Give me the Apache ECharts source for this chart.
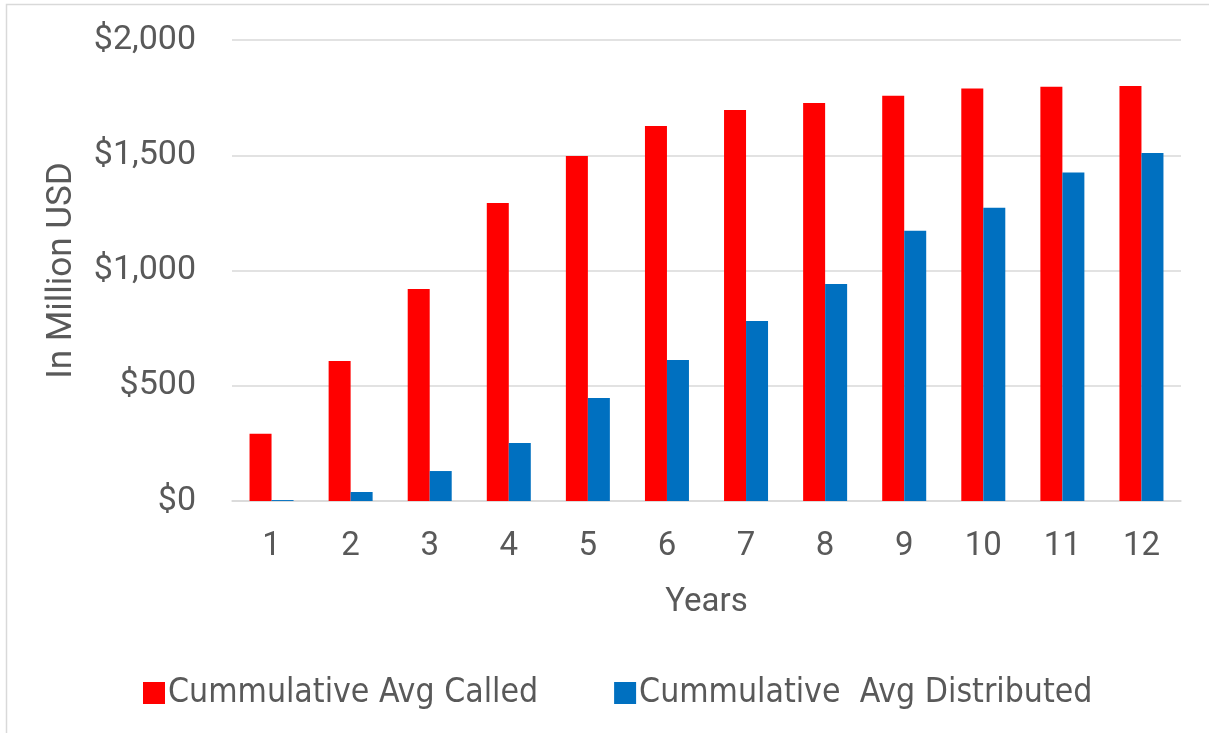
<!DOCTYPE html>
<html>
<head>
<meta charset="utf-8">
<script src="https://cdn.jsdelivr.net/npm/echarts@6/dist/echarts.min.js"></script>
<style>
html,body{margin:0;padding:0;background:#fff;}
#chart{width:1209px;height:733px;}
</style>
</head>
<body>
<div id="chart"></div>
<script>
const years = ['1','2','3','4','5','6','7','8','9','10','11','12'];
const called = [292, 607, 920, 1293, 1497, 1627, 1696, 1727, 1758, 1790, 1797, 1800];
const distributed = [4, 39, 130, 252, 447, 612, 781, 941, 1172, 1272, 1425, 1510];
const yTicks = [0, 500, 1000, 1500, 2000];
const seriesNames = ['Cummulative Avg Called', 'Cummulative  Avg Distributed'];

const chart = echarts.init(document.getElementById('chart'));
const textColor = '#595959';
const font = 'Roboto';
chart.setOption({
  animation: false,
  backgroundColor: '#fff',
  graphic: [{
    type: 'rect', silent: true,
    shape: {x: 6.5, y: 4.5, width: 1220, height: 740},
    style: {fill: 'none', stroke: '#d9d9d9', lineWidth: 1.5}
  }],
  grid: {left: 232, right: 28, top: 40, bottom: 232},
  legend: {
    left: 138, top: 671,
    itemWidth: 22, itemHeight: 22, itemGap: 76,
    icon: 'rect',
    textStyle: {color: textColor, fontSize: 33.5, fontFamily: '"Liberation Sans Narrow","DejaVu Sans Condensed",sans-serif', padding: [0,0,0,-2]},
    data: seriesNames
  },
  xAxis: {
    type: 'category',
    data: years,
    axisLine: {lineStyle: {color: '#d9d9d9', width: 1.5}},
    axisTick: {show: false},
    axisLabel: {color: textColor, fontSize: 33, fontFamily: font, margin: 29},
    name: 'Years',
    nameLocation: 'middle',
    nameGap: 85,
    nameTextStyle: {color: textColor, fontSize: 33, fontFamily: font}
  },
  yAxis: {
    type: 'value',
    min: 0, max: 2000, interval: 500,
    axisLine: {show: false},
    axisTick: {show: false},
    splitLine: {lineStyle: {color: '#d9d9d9', width: 1.5}},
    axisLabel: {
      color: textColor, fontSize: 34, fontFamily: font, margin: 36,
      formatter: v => yTicks.includes(v) ? '$' + v.toLocaleString('en-US') : ''
    },
    name: 'In Million USD',
    nameLocation: 'middle',
    nameGap: 152,
    nameTextStyle: {color: textColor, fontSize: 35, fontFamily: font}
  },
  series: [
    {name: seriesNames[0], type: 'bar', data: called, barWidth: 22, barGap: '0%',
     itemStyle: {color: '#ff0000'}},
    {name: seriesNames[1], type: 'bar', data: distributed, barWidth: 22, barGap: '0%',
     itemStyle: {color: '#0070c0'}}
  ]
});
</script>
</body>
</html>
